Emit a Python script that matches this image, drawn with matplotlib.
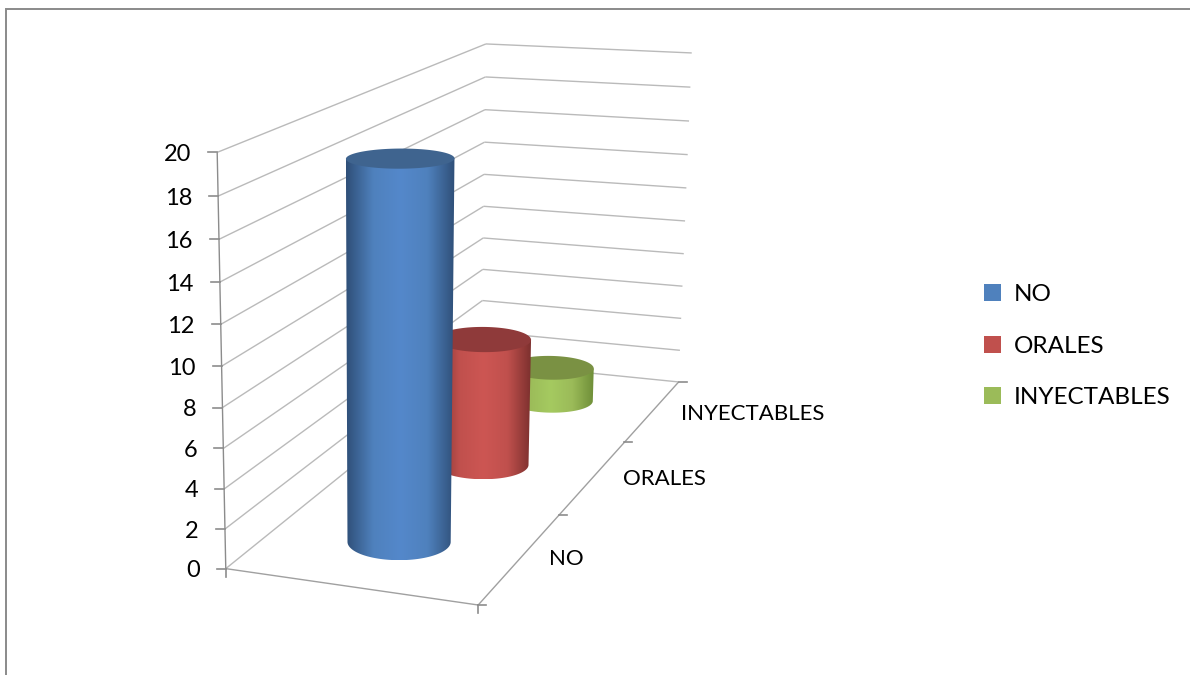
#!/usr/bin/env python3
# coding: utf-8

import numpy as np
import matplotlib.pyplot as plt
from matplotlib.colors import LinearSegmentedColormap
from matplotlib.patches import Polygon, Rectangle

#Datos
categorias = ['NO', 'ORALES', 'INYECTABLES']
valores = [19, 7, 2]
marcas_valor = [0, 2, 4, 6, 8, 10, 12, 14, 16, 18, 20]

colores = ['#4f81bd', '#c0504d', '#9bbb59']
colores_tapa = ['#3f648f', '#8f3a3a', '#7a9143']
colores_centro = ['#5488cb', '#cd5653', '#a5ca60']
colores_borde = ['#2f4f78', '#7a2f2d', '#6f8f38']

plt.rcParams['font.family'] = ['Lato', 'DejaVu Sans']
fig = plt.figure(figsize=(11.9, 6.75), dpi=100)
ax = fig.add_axes([0, 0, 1, 1])
ax.set_xlim(0, 1190)
ax.set_ylim(675, 0)
ax.axis('off')

#Camara: esquinas de la caja (x, profundidad, valor) -> pixel
esquinas = [
    ((0, 0, 0), (228, 570)),
    ((0, 0, 20), (217, 151)),
    ((1, 0, 0), (479, 605)),
    ((1, 0, 20), (481, 170)),
    ((0, 3, 0), (478, 362)),
    ((1, 3, 0), (680, 381)),
    ((0, 3, 20), (488, 44)),
    ((1, 3, 20), (692, 54)),
]
A = []
b = []
for (X, Y, Z), (u, v) in esquinas:
    A.append([X, Y, Z, 1, 0, 0, 0, 0, -u*X, -u*Y, -u*Z])
    A.append([0, 0, 0, 0, X, Y, Z, 1, -v*X, -v*Y, -v*Z])
    b += [u, v]
P = np.linalg.lstsq(np.array(A, float), np.array(b, float), rcond=None)[0]
P = np.append(P, 1).reshape(3, 4)


def proy(X, Y, Z):
    X, Y, Z = np.broadcast_arrays(X, Y, Z)
    q = P @ np.array([X, Y, Z, np.ones_like(X)], float)
    return q[0]/q[2], q[1]/q[2]


def linea(p1, p2, color='#bababa', lw=1.0):
    x1, y1 = proy(*p1)
    x2, y2 = proy(*p2)
    ax.plot([x1, x2], [y1, y2], color=color, lw=lw, solid_capstyle='butt')


#Rejilla de las paredes
for z in marcas_valor:
    linea((0, 0, z), (0, 3, z))
    linea((0, 3, z), (1, 3, z))

#Ejes y marcas
gris = '#8c8c8c'
linea((0, 0, 0), (0, 0, 20), gris)
linea((0, 0, 0), (1, 0, 0), '#a0a0a0')
linea((1, 0, 0), (1, 3, 0), '#a0a0a0')
for z in marcas_valor:
    x, y = proy(0, 0, z)
    ax.plot([x-9, x], [y, y], color=gris, lw=1.2)
    ax.text(x-26, y+2, str(z), ha='right', va='center', fontsize=17, color='black')
for d in range(4):
    x, y = proy(1, d, 0)
    ax.plot([x, x+8], [y, y], color=gris, lw=1.2)
x, y = proy(0, 0, 0)
ax.plot([x, x], [y, y+8], color=gris, lw=1.2)
x, y = proy(1, 0, 0)
ax.plot([x, x], [y, y+8], color=gris, lw=1.2)

#Etiquetas de categoria
pos_etiquetas = [(566, 559), (664, 479), (753, 414)]
for nombre, (x, y) in zip(categorias, pos_etiquetas):
    ax.text(x, y, nombre, ha='center', va='center', fontsize=16, color='black')

#Cilindros, de atras hacia adelante
t = np.linspace(0, 2*np.pi, 181)
for i in [2, 1, 0]:
    cx = 0.507 + 0.2*np.cos(t)
    cy = i + 0.5 + 0.2*np.sin(t)
    xb, yb = proy(cx, cy, 0)
    xt, yt = proy(cx, cy, valores[i])

    il, ir = np.argmin(xb), np.argmax(xb)
    jl, jr = np.argmin(xt), np.argmax(xt)
    recta = yb[il] + (xb - xb[il])*(yb[ir]-yb[il])/(xb[ir]-xb[il])
    abajo = yb >= recta
    orden = np.argsort(xb[abajo])[::-1]
    arco = np.column_stack([xb[abajo][orden], yb[abajo][orden]])
    silueta = np.vstack([[[xt[jl], yt[jl]], [xt[jr], yt[jr]]], arco])

    cmap = LinearSegmentedColormap.from_list('c', [(0, colores_borde[i]), (0.25, colores[i]),
                                                   (0.5, colores_centro[i]), (0.75, colores[i]),
                                                   (1, colores_borde[i])])
    x0 = min(xb.min(), xt.min())
    x1 = max(xb.max(), xt.max())
    im = ax.imshow(np.linspace(0, 1, 256)[None, :], cmap=cmap, aspect='auto',
                   extent=(x0, x1, yb.max(), yt.min()), zorder=5-i)
    im.set_clip_path(Polygon(silueta, closed=True, transform=ax.transData))
    ax.add_patch(Polygon(np.column_stack([xt, yt]), closed=True, fc=colores_tapa[i], ec='none', zorder=5-i))
ax.set_xlim(0, 1190)
ax.set_ylim(675, 0)

#Leyenda
for nombre, color, y in zip(categorias, colores, [292.5, 344.5, 395.5]):
    ax.add_patch(Rectangle((984, y-8.5), 17, 17, fc=color, ec='none'))
    ax.text(1014, y+2, nombre, ha='left', va='center', fontsize=17.5, color='black')

#Marco
ax.plot([5.5, 5.5, 1190], [675, 8.5, 8.5], color='#8a8a8a', lw=1.4, solid_joinstyle='miter')

fig.savefig('out.png', dpi=100)
